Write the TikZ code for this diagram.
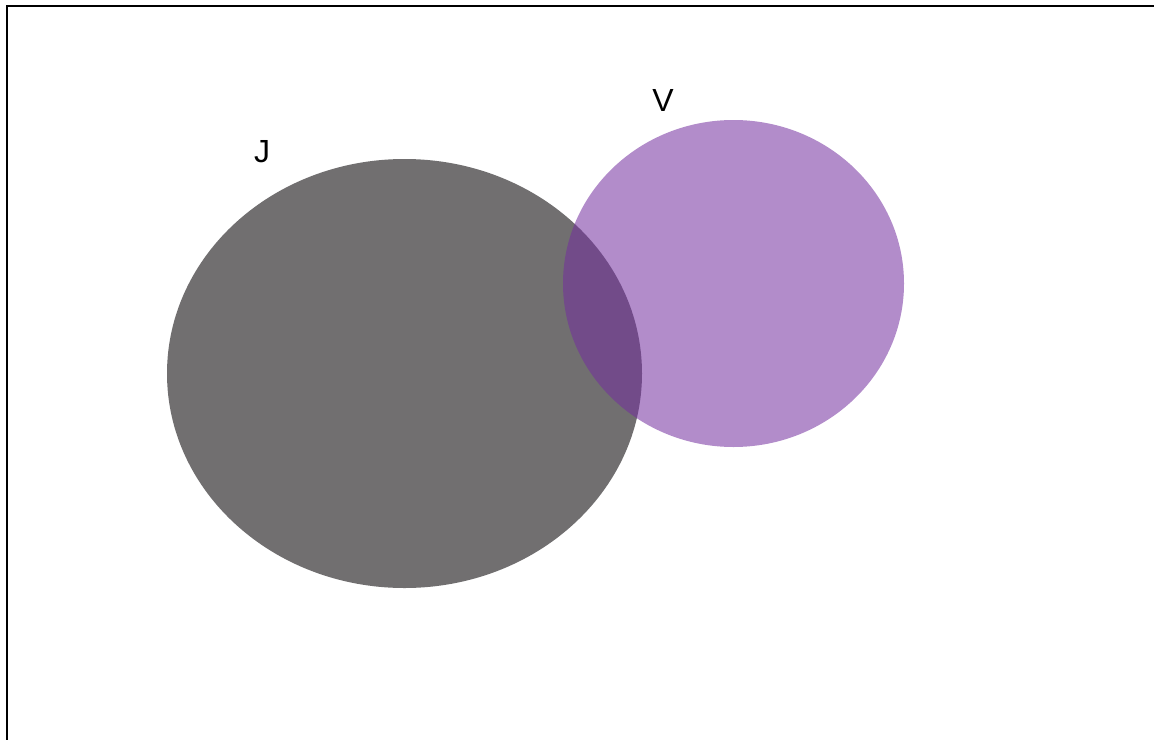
\documentclass[tikz,border=0pt]{standalone}
\usepackage{fontspec}
\setmainfont{Liberation Sans}
\definecolor{jgray}{RGB}{113,111,112}
\definecolor{vpurple}{RGB}{115,46,159}
\tikzset{
  setlabel/.style={font=\fontsize{32}{38}\selectfont, text=black, inner sep=0pt},
}
\begin{document}
\begin{tikzpicture}[x=1pt,y=-1pt]
\useasboundingbox (0,0) rectangle (1154,739);
\clip (0,0) rectangle (1154,739);
\fill[white] (0,0) rectangle (1154,739);
\draw[line width=2pt, black] (6.5,6) rectangle (1180,770);
\fill[jgray] (404.5,373.5) ellipse [x radius=237.5, y radius=214.5];
\fill[vpurple, fill opacity=0.55] (733.5,283.5) ellipse [x radius=170.5, y radius=163.5];
\node[setlabel] (J) at (262,152) {J};
\node[setlabel] (V) at (663,100.5) {V};
\end{tikzpicture}
\end{document}
